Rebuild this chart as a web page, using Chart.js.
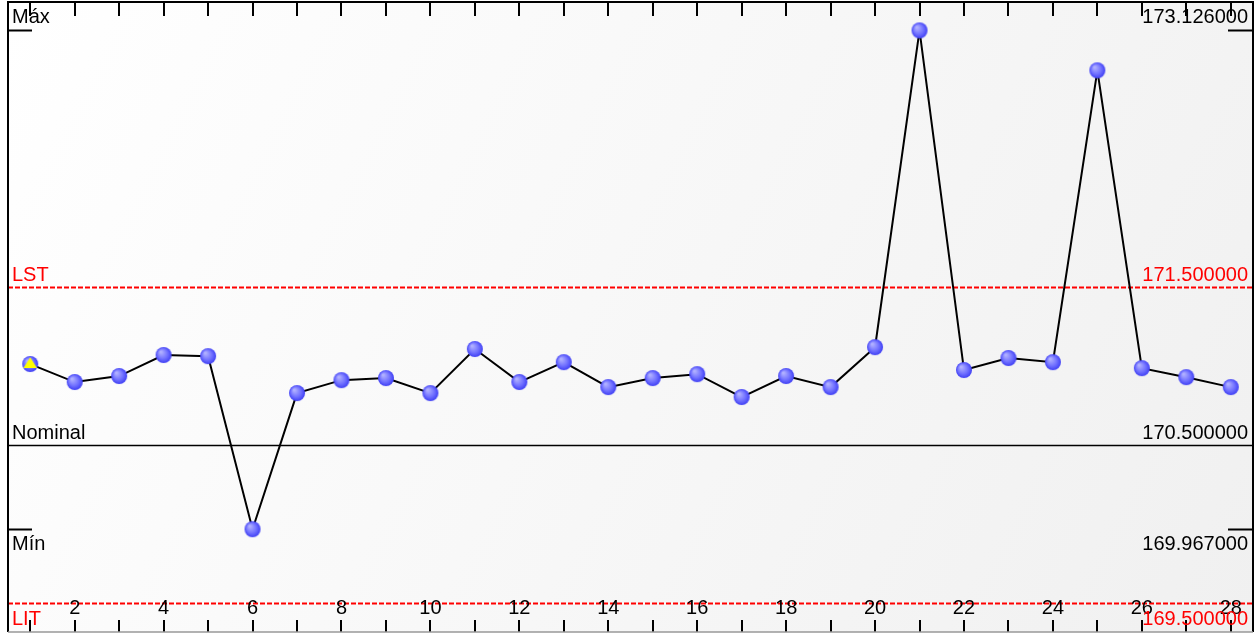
<!DOCTYPE html>
<html>
<head>
<meta charset="utf-8">
<script src="https://cdn.jsdelivr.net/npm/chart.js@4/dist/chart.umd.min.js"></script>
<style>
html,body{margin:0;padding:0;background:#fff;}
#wrap{width:1255px;height:634px;position:relative;}
</style>
</head>
<body>
<div id="wrap"><canvas id="c" width="1255" height="634"></canvas></div>
<script>
const samples = [1,2,3,4,5,6,7,8,9,10,11,12,13,14,15,16,17,18,19,20,21,22,23,24,25,26,27,28];
const measured = [171.013,170.899,170.937,171.070,171.063,169.967,170.829,170.911,170.924,170.829,
  171.108,170.899,171.025,170.867,170.924,170.949,170.804,170.937,170.867,171.120,
  173.126,170.975,171.051,171.025,172.873,170.987,170.930,170.867];
const xTickLabels = [2,4,6,8,10,12,14,16,18,20,22,24,26,28];
const refNames = ['Máx','LST','Nominal','Mín','LIT'];
const refValues = [173.126,171.5,170.5,169.967,169.5];
const refColors = ['#000000','#ff0000','#000000','#000000','#ff0000'];
const refDashed = [false,true,false,false,true];
const yMin = 169.316, yMax = 173.306;

function makeSphere(r){
  const c = document.createElement('canvas');
  c.width = c.height = 2*r+2;
  const g = c.getContext('2d');
  const cx = r+1, cy = r+1;
  const grad = g.createRadialGradient(cx - r*0.35, cy - r*0.4, r*0.1, cx, cy, r);
  grad.addColorStop(0, '#b0b0ff');
  grad.addColorStop(0.6, '#7070ff');
  grad.addColorStop(1, '#4040f4');
  g.fillStyle = grad;
  g.beginPath(); g.arc(cx, cy, r, 0, Math.PI*2); g.fill();
  return c;
}
function makeSphereTri(r){
  const c = makeSphere(r);
  const g = c.getContext('2d');
  const cx = r+1, cy = r+1;
  g.fillStyle = '#ffff00';
  g.beginPath();
  g.moveTo(cx, cy - r*0.85);
  g.lineTo(cx + r*0.85, cy + r*0.5);
  g.lineTo(cx - r*0.85, cy + r*0.5);
  g.closePath(); g.fill();
  return c;
}
const sphere = makeSphere(8);
const sphereTri = makeSphereTri(8);
const pointStyles = samples.map((s,i)=> i===0 ? sphereTri : sphere);
const FONT = '20px "Liberation Sans", Arial, sans-serif';

const bgPlugin = {
  id:'bg',
  beforeDraw(chart){
    const {ctx, chartArea:a} = chart;
    ctx.save();
    const grad = ctx.createLinearGradient(a.left, a.top, a.right, a.bottom);
    grad.addColorStop(0,'#ffffff');
    grad.addColorStop(1,'#f0f0f0');
    ctx.fillStyle = grad;
    ctx.fillRect(a.left, a.top, a.right-a.left, a.bottom-a.top);
    const ys = chart.scales.y;
    refValues.forEach((v,i)=>{
      const y = Math.round(ys.getPixelForValue(v)) + 0.5;
      ctx.strokeStyle = refColors[i];
      if (refNames[i]==='Máx' || refNames[i]==='Mín'){
        ctx.setLineDash([]);
        ctx.lineWidth = 2;
        ctx.beginPath();
        ctx.moveTo(a.left, y); ctx.lineTo(a.left+24, y);
        ctx.moveTo(a.right-25, y); ctx.lineTo(a.right, y);
        ctx.stroke();
      } else {
        ctx.lineWidth = refDashed[i] ? 1.8 : 1.5;
        ctx.setLineDash(refDashed[i] ? [5,2] : []);
        ctx.beginPath();
        ctx.moveTo(a.left, y); ctx.lineTo(a.right, y);
        ctx.stroke();
      }
    });
    ctx.setLineDash([]);
    ctx.restore();
  },
  afterDatasetsDraw(chart){
    const {ctx, chartArea:a} = chart;
    const xs = chart.scales.x, ys = chart.scales.y;
    ctx.save();
    ctx.strokeStyle = '#000'; ctx.lineWidth = 2;
    ctx.beginPath();
    samples.forEach(s=>{
      const x = Math.round(xs.getPixelForValue(s));
      ctx.moveTo(x, a.top); ctx.lineTo(x, a.top+14);
      ctx.moveTo(x, a.bottom); ctx.lineTo(x, a.bottom-12);
    });
    ctx.stroke();
    ctx.font = FONT;
    ctx.fillStyle = '#000'; ctx.textAlign='center'; ctx.textBaseline='alphabetic';
    xTickLabels.forEach(t=>{
      ctx.fillText(String(t), xs.getPixelForValue(t), a.bottom - 18);
    });
    const offs = {'Máx':-7,'LST':-6,'Nominal':-6,'Mín':21,'LIT':22};
    refValues.forEach((v,i)=>{
      const y = ys.getPixelForValue(v);
      ctx.fillStyle = refColors[i];
      const ty = y + offs[refNames[i]];
      ctx.textAlign='left';
      ctx.fillText(refNames[i], a.left+4, ty);
      ctx.textAlign='right';
      ctx.fillText(v.toFixed(6), a.right-5, ty);
    });
    ctx.strokeStyle='#000'; ctx.lineWidth=2;
    ctx.beginPath();
    ctx.moveTo(a.left, a.bottom); ctx.lineTo(a.left, a.top); ctx.lineTo(a.right, a.top); ctx.lineTo(a.right, a.bottom);
    ctx.stroke();
    ctx.strokeStyle='#999'; ctx.lineWidth=1.5;
    ctx.beginPath(); ctx.moveTo(a.left, a.bottom); ctx.lineTo(a.right, a.bottom); ctx.stroke();
    ctx.restore();
  }
};

new Chart(document.getElementById('c'), {
  type:'line',
  data:{
    labels: samples,
    datasets:[{
      data: samples.map((s,i)=>({x:s, y:measured[i]})),
      borderColor:'#000',
      borderWidth:2,
      tension:0,
      pointStyle: pointStyles,
      pointRadius:8,
      pointHoverRadius:8,
      clip:false
    }]
  },
  options:{
    responsive:false,
    animation:false,
    events:[],
    layout:{autoPadding:false, padding:{left:8,right:2,top:2,bottom:2}},
    plugins:{legend:{display:false}, tooltip:{enabled:false}},
    scales:{
      x:{type:'linear', min:0.5, max:28.5, display:false},
      y:{type:'linear', min:yMin, max:yMax, display:false}
    }
  },
  plugins:[bgPlugin]
});
</script>
</body>
</html>
